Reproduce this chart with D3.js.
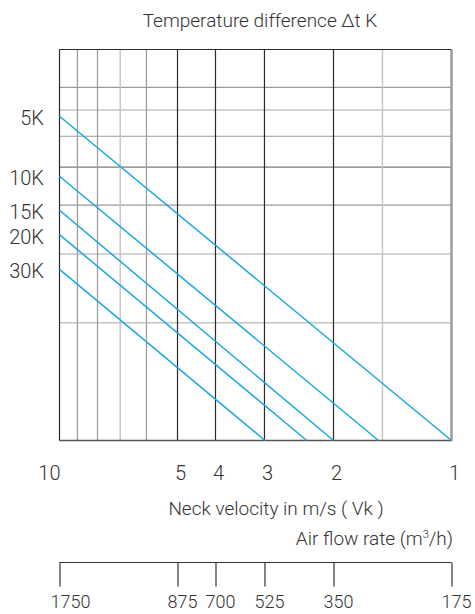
<!DOCTYPE html>
<html>
<head>
<meta charset="utf-8">
<script src="https://cdn.jsdelivr.net/npm/d3@7/dist/d3.min.js"></script>
<style>
  html, body { margin: 0; padding: 0; background: #fff; }
  svg { display: block; }
  text { font-family: Roboto, "Open Sans", sans-serif; font-weight: 300; fill: #333; }
</style>
</head>
<body>
<svg id="chart" width="475" height="614"></svg>
<script>
// ---- data ----
const velocityTicks = [10, 5, 4, 3, 2, 1];
const airflowTicks = [1750, 875, 700, 525, 350, 175];
const gridMajorX = [10, 5, 4, 3, 2];
const gridMinorX = [9, 8, 6];
const gridLightX = [7, 1.5];
const gridMajorY = [10];
const gridMidY = [5];
const gridMinorY = [8, 6, 4];
const gridLightY = [7, 3, 2];
const seriesLabels = ["5K", "10K", "15K", "20K", "30K"];
const seriesStartY = [6.75, 4.74, 3.88, 3.36, 2.74];   // relative value at 10 m/s
const seriesEndV = [1.0, 1.535, 2.0, 2.34, 2.99];      // velocity where value reaches 1

const svg = d3.select("#chart");
const L = 59.5, R = 451.5, T = 49.5, B = 440.5;

const x = d3.scaleLog().domain([10, 1]).range([L, R]);
const y = d3.scaleLog().domain([1, 10]).range([B, T]);
const xAir = d3.scaleLog().domain([1750, 175]).range([L, R]);

const g = svg.append("g");

function vLines(vals, color, w) {
  g.selectAll(null).data(vals).enter().append("line")
    .attr("x1", d => x(d)).attr("x2", d => x(d))
    .attr("y1", T).attr("y2", B)
    .attr("stroke", color).attr("stroke-width", w);
}
function hLines(vals, color, w) {
  g.selectAll(null).data(vals).enter().append("line")
    .attr("x1", L).attr("x2", R)
    .attr("y1", d => y(d)).attr("y2", d => y(d))
    .attr("stroke", color).attr("stroke-width", w);
}
hLines(gridLightY, "#c4c4c4", 1.6);
hLines(gridMinorY, "#9a9a9a", 1.2);
hLines(gridMidY, "#7a7a7a", 1.2);
vLines(gridLightX, "#c4c4c4", 1.4);
vLines(gridMinorX, "#9a9a9a", 1.2);
vLines(gridMajorX, "#2a2a2a", 1.2);
hLines(gridMajorY, "#2a2a2a", 1.2);
// bottom border
hLines([1], "#555", 1.6);
// right border
g.append("line").attr("x1", x(1)).attr("x2", x(1)).attr("y1", T).attr("y2", B + 0.8)
  .attr("stroke", "#999").attr("stroke-width", 2.4);

// series lines
const series = seriesLabels.map((lab, i) => ({
  label: lab,
  pts: [[10, seriesStartY[i]], [seriesEndV[i], 1]]
}));
const line = d3.line().x(d => x(d[0])).y(d => y(d[1]));
svg.append("g").selectAll("path").data(series).enter().append("path")
  .attr("d", d => line(d.pts))
  .attr("fill", "none").attr("stroke", "#1ba6e0").attr("stroke-width", 1.5);

// series labels
svg.append("g").selectAll("text").data(series).enter().append("text")
  .attr("x", 44).attr("y", d => y(d.pts[0][1]) + 2)
  .attr("text-anchor", "end").attr("dominant-baseline", "central")
  .attr("font-size", 20).text(d => d.label);

// title
svg.append("text").attr("x", 260).attr("y", 27).attr("text-anchor", "middle")
  .attr("font-size", 19).text("Temperature difference \u0394t K");

// velocity tick labels
svg.append("g").selectAll("text").data(velocityTicks).enter().append("text")
  .attr("x", d => d === 10 ? x(d) + 1 : x(d) + 3)
  .attr("y", 480)
  .attr("text-anchor", d => d === 10 ? "end" : "middle")
  .attr("font-size", 20).text(d => d);

svg.append("text").attr("x", 276).attr("y", 514.5).attr("text-anchor", "middle")
  .attr("font-size", 19).text("Neck velocity in m/s  ( Vk )");

const af = svg.append("text").attr("x", 453).attr("y", 544.5).attr("text-anchor", "end")
  .attr("font-size", 19);
af.append("tspan").text("Air flow rate (m");
af.append("tspan").attr("font-size", 11).attr("dy", -7).text("3");
af.append("tspan").attr("dy", 7).text("/h)");

// air flow axis
const airAxis = d3.axisBottom(xAir).tickValues(airflowTicks).tickSize(24).tickFormat("");
const ag = svg.append("g").attr("transform", "translate(0,562.5)").call(airAxis);
ag.select(".domain").attr("stroke", "#333").attr("stroke-width", 1.2).attr("d", `M${L},0H${R}`);
ag.selectAll(".tick line").attr("stroke", "#333").attr("stroke-width", 1.2);

svg.append("g").selectAll("text").data(airflowTicks).enter().append("text")
  .attr("x", d => xAir(d) + (d === 1750 ? 11 : 5))
  .attr("y", 608)
  .attr("text-anchor", "middle")
  .attr("font-size", 18).text(d => d);
</script>
</body>
</html>
